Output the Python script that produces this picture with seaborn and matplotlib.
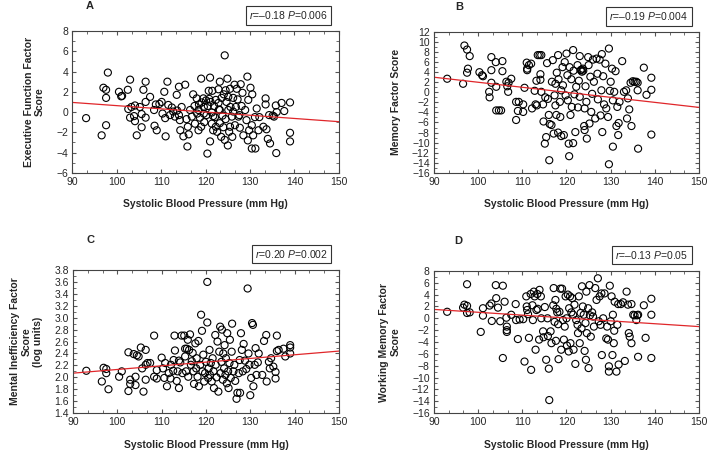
import seaborn as sns
import matplotlib.pyplot as plt
from matplotlib.ticker import MultipleLocator, AutoMinorLocator

# Panel A - executive function
sbp_a = [93.1, 96.6, 97.0, 97.6, 97.6, 97.6, 98.0, 100.5, 101.0, 101.2, 102.5, 103.0, 102.6, 103.0,
         103.3, 103.9, 104.1, 104.5, 104.1, 105.2, 105.6, 105.6, 106.0, 106.5, 106.5, 106.5, 107.5,
         108.4, 108.5, 109.0, 108.8, 109.6, 110.1, 110.7, 111.0, 111.4, 110.3, 110.9, 111.6, 112.0,
         112.4, 112.7, 113.1, 113.5, 113.6, 114.0, 114.0, 114.2, 114.3, 114.6, 115.0, 115.4, 115.7,
         116.0, 115.9, 116.2, 116.5, 116.9, 117.2, 117.5, 117.6, 118.0, 118.1, 118.4, 118.5, 118.7,
         119.0, 119.0, 119.1, 119.5, 119.6, 119.7, 120.1, 120.4, 120.5, 120.7, 120.8, 121.0, 121.0,
         121.1, 121.4, 121.4, 121.5, 121.7, 121.9, 122.1, 122.3, 122.6, 122.9, 123.0, 123.2, 123.2,
         123.5, 123.6, 123.8, 124.0, 124.1, 124.3, 124.3, 124.5, 124.5, 124.7, 124.9, 125.0, 125.1,
         125.3, 125.5, 125.6, 125.9, 126.0, 126.2, 126.5, 126.6, 126.8, 127.0, 127.2, 127.4, 127.6,
         127.7, 127.9, 128.1, 128.3, 128.5, 128.9, 129.2, 129.4, 129.5, 129.6, 129.8, 130.1, 130.4,
         130.5, 130.4, 131.2, 130.7, 131.1, 131.5, 131.9, 132.1, 133.0, 133.5, 133.5, 133.7, 134.0,
         134.3, 134.5, 135.1, 135.4, 135.8, 136.0, 135.9, 137.1, 137.7, 139.0, 139.0, 139.0,
         119.6, 121.7, 123.2, 125.1, 126.2, 120.2, 122.3, 125.5, 118.4, 122.9]
score_a = [-0.6, -2.3, 2.4, 2.2, 1.4, -1.3, 3.9, 2.0, 1.55, 1.6, 2.2, 3.2, 0.3, -0.55,
           0.5, -0.4, 0.65, -2.3, -0.9, 0.5, -0.2, -1.5, 2.2, 3.0, 1.0, -0.55, 1.5,
           0.2, -1.35, -1.8, 0.75, 0.8, 1.0, 2.0, -2.4, 3.0, -0.15, -0.6, 0.7, -0.3,
           0.45, 0.05, -0.45, 1.7, 0.15, 2.5, -0.3, -0.8, -1.8, 0.5, -2.4, 2.7, -0.7,
           -1.45, -3.4, -2.2, 0.2, -0.45, 1.75, 0.6, -1.15, 1.35, -0.15, -1.8, 0.75, -0.55,
           3.3, -1.45, 0.95, 1.35, -0.15, -1.0, 1.15, -4.1, 0.6, 2.1, 1.3, 3.4, -2.9,
           1.0, -0.05, -1.15, 2.1, -1.8, 0.6, -0.5, 1.2, -1.95, 2.25, 0.25, 3.0, -1.1,
           -2.45, 1.4, -0.35, -1.5, 1.75, 5.6, -2.75, 2.15, -0.7, 1.0, 3.3, -3.3, 0.2,
           -1.95, 2.3, 0.5, -0.45, -2.45, 1.4, 2.7, -1.3, 0.5, 2.3, 1.25, -0.45, -0.3,
           -1.55, 2.75, 0.6, 1.9, -2.3, 0.2, -0.8, 3.5, -2.8, 1.2, -1.8, 2.4, -1.3,
           1.75, -3.6, -3.6, -2.3, -0.5, 0.35, -1.8, -0.5, -1.45, 1.35, 0.75, -1.7, -2.65,
           -0.3, -3.1, -0.35, -0.45, 0.65, 0.0, -4.05, 0.9, 0.1, 0.95, -2.05, -2.9,
           0.5, -0.4, 0.2, 1.5, 0.05, -0.3, -1.45, -1.45, 0.2, 0.9]

# Panel B - memory
sbp_b = [93.0, 96.6, 96.9, 97.5, 97.7, 97.5, 98.1, 100.3, 100.9, 101.1, 102.5, 102.6, 103.0, 103.0,
         103.0, 104.0, 104.1, 104.1, 104.7, 105.2, 105.5, 105.5, 106.4, 106.6, 106.8, 106.9, 107.5,
         108.6, 108.6, 109.0, 109.2, 110.2, 110.2, 110.5, 111.0, 111.1, 111.1, 111.5, 112.0, 112.2,
         112.8, 113.0, 113.3, 113.2, 113.5, 113.9, 114.3, 114.1, 114.1, 114.3, 114.7, 114.8, 115.1,
         115.2, 115.6, 115.4, 115.8, 116.0, 116.2, 116.1, 116.6, 116.7, 116.9, 117.1, 117.3, 117.5,
         117.5, 117.7, 117.8, 118.1, 118.1, 118.2, 118.5, 118.6, 118.8, 118.8, 119.1, 119.2, 119.4,
         119.6, 119.8, 120.0, 120.2, 120.3, 120.5, 120.6, 120.7, 120.9, 121.1, 121.2, 121.5, 121.5,
         121.6, 121.8, 122.0, 122.2, 122.5, 122.6, 122.8, 123.0, 123.0, 123.2, 123.4, 123.5, 123.7,
         123.8, 124.0, 124.1, 124.1, 124.3, 124.5, 124.6, 124.9, 125.0, 125.2, 125.4, 125.6, 125.8,
         126.0, 126.2, 126.5, 126.8, 127.0, 127.1, 127.5, 127.7, 127.9, 128.0, 128.1, 128.3, 128.5,
         128.8, 129.0, 129.4, 129.6, 129.6, 129.8, 130.0, 130.3, 130.5, 130.5, 130.8, 131.1, 131.3,
         131.5, 131.7, 131.8, 132.0, 132.6, 133.0, 133.5, 133.7, 133.9, 134.2, 134.5, 134.7, 135.0,
         135.4, 135.8, 136.1, 136.1, 136.2, 137.5, 138.1, 139.2, 139.2, 139.2]
score_b = [2.7, 1.7, 9.3, 8.5, 4.7, 3.9, 7.2, 4.0, 3.4, 3.2, 0.1, -1.0, 7.0, 4.4,
           1.9, 6.0, 1.1, -3.6, -3.6, -3.6, 6.2, 4.2, 2.1, 1.2, 0.1, 1.9, 2.7,
           -1.9, -5.5, -3.7, -1.9, -2.4, -3.9, 0.9, 5.9, 4.7, 4.4, 5.4, 5.7, -3.2,
           0.3, -2.4, -2.6, 2.3, 7.4, 7.4, 7.4, 3.6, 2.5, 0.1, -2.4, -5.8, -10.2,
           -1.0, 5.8, -8.9, -1.3, -4.5, -6.3, -13.5, -6.5, 2.1, 6.4, -8.2, -0.6, -2.6,
           1.7, -4.5, 3.9, 7.4, -8.0, 2.6, -1.9, -4.9, -8.7, 0.4, 5.0, 1.4, -8.5,
           6.0, -0.6, 7.7, 3.4, -1.6, -10.2, -12.7, 5.0, -4.5, 2.6, -2.9, 8.4, -10.1,
           4.3, -0.4, -7.9, 1.1, 5.4, -3.0, 2.3, 7.2, -0.9, 4.4, 4.5, 4.1, 4.7,
           4.3, -6.7, -7.5, -3.2, 1.2, -1.9, -9.2, 7.0, 5.4, -6.2, 3.1, -3.9, -0.3,
           6.5, 2.1, -5.2, 6.7, 3.7, -1.4, 6.5, -4.6, 0.4, 7.6, -7.9, 3.2, -2.4,
           5.7, -3.2, -4.9, 8.7, -14.3, 0.3, 2.1, 4.7, -10.8, -1.6, 0.1, 4.2, -6.7,
           -2.9, -8.5, -6.1, -1.9, 6.2, 0.1, 0.4, -5.2, -1.2, -3.4, 1.9, -6.7, 2.2,
           2.1, 2.1, 1.9, 0.4, -11.2, 4.9, -0.5, 2.9, 0.5, -8.4]

# Panel C - mental inefficiency (log units)
sbp_c = [93.0, 96.5, 96.9, 97.5, 97.5, 98.0, 100.4, 101.0, 102.5, 102.5, 102.9, 102.9, 103.7, 104.1,
         104.1, 104.4, 104.8, 105.3, 105.6, 105.9, 106.4, 106.4, 106.4, 106.8, 107.4, 108.3, 108.3,
         108.9, 108.9, 110.0, 110.3, 110.6, 110.8, 111.2, 111.6, 112.0, 112.1, 112.6, 112.7, 112.9,
         113.0, 113.4, 113.6, 113.9, 113.9, 114.2, 114.5, 114.7, 115.1, 115.3, 115.3, 115.5, 115.7,
         115.9, 116.0, 116.2, 116.4, 116.6, 116.8, 117.0, 117.2, 117.3, 117.6, 117.8, 117.9, 118.1,
         118.3, 118.4, 118.7, 118.9, 119.1, 119.2, 119.4, 119.6, 119.8, 120.0, 120.3, 120.3, 120.5,
         120.6, 120.8, 120.9, 121.1, 121.3, 121.5, 121.7, 121.8, 122.1, 122.2, 122.4, 122.6, 122.8,
         123.0, 123.2, 123.3, 123.5, 123.6, 123.8, 123.9, 124.1, 124.2, 124.4, 124.5, 124.7, 124.8,
         125.0, 125.1, 125.3, 125.4, 125.6, 125.8, 125.9, 126.2, 126.4, 126.6, 126.9, 127.1, 127.4,
         127.6, 127.7, 127.9, 128.1, 128.3, 128.5, 128.8, 129.1, 129.4, 129.6, 129.8, 130.0, 130.2,
         130.4, 130.6, 130.7, 131.0, 131.2, 131.4, 131.7, 131.9, 132.7, 133.1, 133.6, 133.7, 134.2,
         134.4, 134.7, 135.2, 135.7, 135.7, 136.0, 136.0, 136.4, 137.5, 137.9, 139.0, 139.0, 139.0]
score_c = [2.11, 1.93, 2.16, 2.14, 2.07, 1.80, 2.01, 2.10, 1.77, 2.42, 1.96, 1.89, 2.39, 2.01,
           1.87, 2.37, 2.35, 2.50, 2.15, 1.76, 2.46, 1.96, 2.21, 2.24, 2.24, 2.70, 2.01,
           1.98, 2.12, 2.33, 2.15, 1.99, 2.24, 1.85, 2.07, 1.98, 2.21, 2.11, 2.29, 2.70,
           2.45, 1.94, 2.10, 1.82, 2.28, 2.25, 2.70, 2.07, 2.70, 2.48, 2.35, 2.10, 2.48,
           2.63, 2.01, 2.46, 2.72, 2.21, 2.27, 2.41, 2.10, 1.89, 2.57, 2.15, 2.32, 2.01,
           2.61, 1.85, 2.21, 3.05, 2.78, 2.10, 2.38, 1.93, 2.07, 2.26, 2.92, 3.60, 1.99,
           2.15, 2.46, 2.04, 2.24, 1.93, 2.32, 2.10, 1.82, 2.71, 2.21, 2.00, 2.60, 1.76,
           2.43, 2.85, 2.07, 2.26, 2.80, 1.96, 2.40, 2.15, 2.54, 2.04, 2.32, 1.90, 2.74,
           2.10, 1.82, 2.24, 2.63, 1.99, 2.43, 2.90, 2.10, 2.21, 1.94, 1.64, 1.74, 2.07,
           2.29, 1.74, 2.74, 2.46, 2.10, 2.56, 2.28, 2.14, 3.49, 2.40, 2.21, 1.70, 1.99,
           2.91, 2.88, 1.85, 2.21, 2.49, 2.04, 2.25, 2.40, 2.04, 2.61, 2.71, 1.93, 2.26,
           2.15, 2.32, 2.18, 1.98, 2.09, 2.70, 2.44, 2.46, 2.48, 2.35, 2.54, 2.50, 2.40]

# Panel D - working memory
sbp_d = [93.0, 96.6, 96.9, 97.5, 97.5, 97.5, 98.1, 100.6, 101.1, 101.1, 102.6, 103.0, 103.1, 104.0,
         104.1, 104.5, 105.0, 105.6, 105.6, 106.0, 106.4, 106.5, 106.5, 106.5, 107.5, 108.5, 108.6,
         109.0, 109.4, 110.2, 110.5, 110.9, 111.0, 111.1, 111.3, 111.5, 111.9, 112.0, 112.3, 112.4,
         112.6, 112.8, 113.0, 113.2, 113.4, 113.5, 113.8, 113.9, 114.2, 114.3, 114.7, 114.8, 115.1,
         115.4, 115.7, 115.8, 116.0, 116.1, 116.4, 116.6, 117.0, 117.1, 117.3, 117.5, 117.6, 117.7,
         117.9, 118.1, 118.2, 118.4, 118.6, 118.8, 119.0, 119.2, 119.4, 119.6, 119.8, 120.0, 120.1,
         120.3, 120.5, 120.6, 120.8, 120.9, 121.1, 121.3, 121.5, 121.6, 121.8, 122.0, 122.2, 122.5,
         122.6, 122.8, 123.0, 123.2, 123.4, 123.5, 123.7, 123.9, 124.1, 124.3, 124.4, 124.5, 124.6,
         124.9, 125.0, 125.2, 125.3, 125.5, 125.8, 126.0, 126.2, 126.5, 126.8, 127.1, 127.3, 127.5,
         127.7, 127.9, 128.0, 128.3, 128.6, 129.0, 129.2, 129.4, 129.6, 129.6, 129.8, 130.0, 130.2,
         130.4, 130.5, 130.7, 130.8, 130.9, 131.3, 131.5, 131.7, 131.8, 132.3, 132.8, 133.2, 133.6,
         133.9, 134.1, 134.3, 134.7, 134.7, 135.1, 135.4, 135.8, 136.0, 136.2, 136.2, 137.5, 137.9,
         139.2, 139.2, 139.2]
score_d = [1.1, 1.8, 2.3, 2.1, 5.75, 0.9, 1.0, -2.3, 1.7, 0.45, 2.15, 2.5, -0.45, 5.6,
           3.4, 1.8, -0.5, 5.5, -6.7, 2.8, 0.1, -1.4, -2.0, -2.3, 0.6, 2.4, -0.3,
           -3.5, -0.2, -0.15, -7.3, 3.7, 2.0, 1.4, 0.7, -3.3, 4.1, -8.7, 2.2, -0.3,
           4.5, 3.7, -5.3, 1.4, 4.1, 1.6, -3.6, 4.8, 3.7, 0.0, -2.2, -3.2, 1.9,
           -7.0, 0.0, -3.0, -8.5, -13.8, -2.2, -4.2, 2.2, 5.1, -0.6, 3.1, -3.8, 1.6,
           1.0, -1.0, -6.9, 1.1, 5.0, -5.3, 5.0, -0.3, -3.6, -1.4, 3.7, 0.0, -4.6,
           4.0, -5.6, 1.7, 3.7, -4.2, 1.0, 3.4, 0.6, -5.3, 2.3, -7.7, -0.3, -1.1,
           -2.5, 3.7, -4.2, 0.9, -1.7, 5.4, 2.0, 0.6, -5.5, -0.8, -7.0, 4.5, -2.5,
           1.7, -8.4, 5.6, 0.5, -3.1, 1.0, 0.3, -1.4, 5.1, 3.1, 6.75, -0.5, 3.7,
           -1.1, 4.2, -6.2, 0.0, 4.2, -3.4, -1.4, -3.6, -8.1, -9.0, 5.5, -0.5, 3.7,
           -6.2, 0.6, -4.2, -2.1, 2.8, -9.0, -1.1, 2.4, -7.8, 2.4, 2.7, -7.2, 4.5,
           2.3, -2.5, -3.1, 2.4, -4.2, 0.6, 0.5, -0.3, 0.5, 0.6, -6.5, 2.2, -3.3,
           3.3, 0.6, -6.7]

# fitted regression lines, value at SBP 90 and 150
fit_sbp = [90, 150]
fit_a = [0.95, -0.95]
fit_b = [3.0, -3.0]
fit_c = [2.07, 2.44]
fit_d = [1.5, -1.4]

panels = [
    ("A", sbp_a, score_a, fit_a, "Executive Function Factor\nScore", (-6, 8), 2, "$r$=\u20130.18 $P$=0.006"),
    ("B", sbp_b, score_b, fit_b, "Memory Factor Score", (-16, 12), 2, "$r$=\u20130.19 $P$=0.004"),
    ("C", sbp_c, score_c, fit_c, "Mental Inefficiency Factor\nScore\n(log units)", (1.4, 3.8), 0.2, "$r$=0.20 $P$=0.002"),
    ("D", sbp_d, score_d, fit_d, "Working Memory Factor\nScore", (-16, 8), 2, "$r$=\u20130.13 $P$=0.05"),
]

# axes boxes in figure fractions: left, bottom, width, height
boxes = [
    [0.102, 0.616, 0.376, 0.315],
    [0.612, 0.616, 0.374, 0.313],
    [0.103, 0.082, 0.375, 0.318],
    [0.612, 0.082, 0.374, 0.316],
]
letter_pos = [(0.05, 1.18), (0.08, 1.18), (0.05, 1.21), (0.075, 1.21)]

sns.set_style("ticks")
plt.rcParams["font.family"] = ["Liberation Sans", "DejaVu Sans"]
plt.rcParams["mathtext.fontset"] = "custom"
plt.rcParams["mathtext.it"] = "Liberation Sans:italic"
plt.rcParams["mathtext.rm"] = "Liberation Sans"
plt.rcParams["font.size"] = 7.5

fig = plt.figure(figsize=(7.09, 4.5), dpi=100)

for (letter, x, y, fit, ylab, ylim, ystep, stat), box, lp in zip(panels, boxes, letter_pos):
    ax = fig.add_axes(box)
    sns.scatterplot(x=x, y=y, ax=ax, marker="o", s=26, facecolors="none",
                    edgecolor="black", linewidth=0.8)
    sns.lineplot(x=fit_sbp, y=fit, ax=ax, color="#e0262a", linewidth=0.9)

    ax.set_xlim(90, 150)
    ax.set_ylim(*ylim)
    ax.xaxis.set_major_locator(MultipleLocator(10))
    ax.yaxis.set_major_locator(MultipleLocator(ystep))
    ax.xaxis.set_minor_locator(AutoMinorLocator(3))
    ax.yaxis.set_minor_locator(AutoMinorLocator(2))
    ax.tick_params(which="both", direction="in", top=True, right=True,
                   labelsize=7.5, color="#555555", pad=3)
    ax.tick_params(which="major", length=3)
    ax.tick_params(which="minor", length=2)
    for sp in ax.spines.values():
        sp.set_color("#444444")
        sp.set_linewidth(0.8)

    ax.set_xlabel("Systolic Blood Pressure (mm Hg)", fontweight="bold", fontsize=7.5, labelpad=9)
    ax.set_ylabel(ylab, fontweight="bold", fontsize=7.5, labelpad=8)

    ax.text(lp[0], lp[1], letter, transform=ax.transAxes, fontweight="bold",
            fontsize=8, va="center", ha="left")
    ax.text(0.96, 1.11, stat, transform=ax.transAxes, ha="right", va="center", fontsize=7.5,
            bbox=dict(boxstyle="square,pad=0.3", facecolor="white", edgecolor="#333333", linewidth=0.8))

fig.savefig("out.png", dpi=100)
